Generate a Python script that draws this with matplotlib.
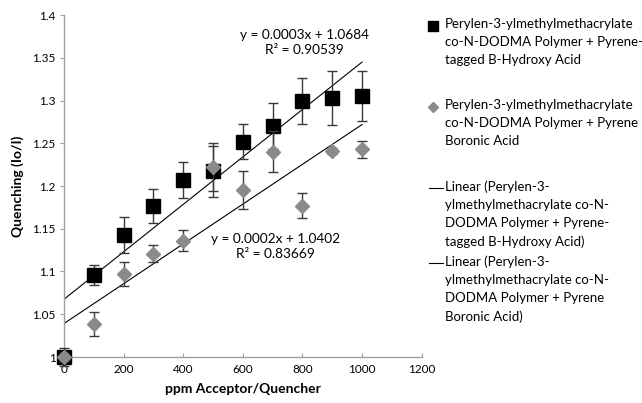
import numpy as np
import matplotlib
matplotlib.use("Agg")
import matplotlib.pyplot as plt
from matplotlib.lines import Line2D

plt.rcParams['font.family'] = ['Lato', 'DejaVu Sans']

ppm = [0, 100, 200, 300, 400, 500, 600, 700, 800, 900, 1000]

hydroxy = [1.0, 1.096, 1.143, 1.177, 1.207, 1.217, 1.252, 1.270, 1.299, 1.303, 1.305]
hydroxy_err = [0.01, 0.012, 0.021, 0.02, 0.021, 0.03, 0.021, 0.027, 0.027, 0.032, 0.029]

boronic = [1.0, 1.039, 1.097, 1.121, 1.136, 1.222, 1.195, 1.240, 1.177, 1.241, 1.243]
boronic_err = [0.005, 0.014, 0.014, 0.01, 0.012, 0.028, 0.022, 0.024, 0.015, 0.004, 0.01]

eq_hydroxy = "y = 0.0003x + 1.0684\nR² = 0.90539"
eq_boronic = "y = 0.0002x + 1.0402\nR² = 0.83669"

legend_labels = [
    "Perylen-3-ylmethylmethacrylate\nco-N-DODMA Polymer + Pyrene-\ntagged B-Hydroxy Acid",
    "Perylen-3-ylmethylmethacrylate\nco-N-DODMA Polymer + Pyrene\nBoronic Acid",
    "Linear (Perylen-3-\nylmethylmethacrylate co-N-\nDODMA Polymer + Pyrene-\ntagged B-Hydroxy Acid)",
    "Linear (Perylen-3-\nylmethylmethacrylate co-N-\nDODMA Polymer + Pyrene\nBoronic Acid)",
]

W, H = 642, 403
fig = plt.figure(figsize=(W / 100, H / 100), dpi=100)
ax = fig.add_axes([64 / W, 46 / H, 357.7 / W, 342 / H])

x = np.array(ppm)
xl = np.array([0, 1000])

# trendlines from least squares fit
for ys in (hydroxy, boronic):
    m, b = np.polyfit(x, ys, 1)
    ax.plot(xl, m * xl + b, color='black', lw=0.8, zorder=2)

# second series drawn on top, like excel
for ys, err, fmt, col, ms, z in ((hydroxy, hydroxy_err, 's', 'black', 9.5, 3),
                                 (boronic, boronic_err, 'D', '#8a8a8a', 7.5, 4)):
    cont = ax.errorbar(x, ys, yerr=err, fmt=fmt, color=col, ms=ms,
                       ecolor='#3a3a3a', elinewidth=1, capsize=3.5, capthick=1, zorder=z)
    cont[0].set_clip_on(False)
    for art in cont[1] + cont[2]:
        art.set_clip_on(False)

ax.text(807, 1.368, eq_hydroxy, ha='center', va='center', fontsize=9.8, linespacing=1.3)
ax.text(710, 1.1297, eq_boronic, ha='center', va='center', fontsize=9.8, linespacing=1.3)

ax.set_xlim(0, 1200)
ax.set_ylim(1, 1.4)
ax.set_xticks(range(0, 1201, 200))
ax.set_yticks(np.arange(1, 1.401, 0.05))
ax.set_yticklabels(['1', '1.05', '1.1', '1.15', '1.2', '1.25', '1.3', '1.35', '1.4'])
ax.tick_params(axis='y', direction='out', length=3, color='#a0a0a0', labelsize=8.5, pad=3)
ax.tick_params(axis='x', direction='in', length=3, color='#a0a0a0', labelsize=8.5, pad=5)
for s in ('top', 'right'):
    ax.spines[s].set_visible(False)
for s in ('left', 'bottom'):
    ax.spines[s].set_color('#a0a0a0')
    ax.spines[s].set_linewidth(1)

ax.set_xlabel('ppm Acceptor/Quencher', fontsize=10, fontweight='bold', labelpad=6)
ax.set_ylabel('Quenching (Io/I)', fontsize=10, fontweight='bold', labelpad=6)

# legend drawn manually, Excel style spacing
entry_tops = [26, 107, 188, 263]
handles = [
    dict(marker='s', color='black', ms=7, ls='none'),
    dict(marker='D', color='#8a8a8a', ms=5, ls='none'),
    dict(marker=None, color='black', lw=0.8),
    dict(marker=None, color='black', lw=0.8),
]
for top, lab, h in zip(entry_tops, legend_labels, handles):
    yf = 1 - top / H
    if h.get('marker'):
        fig.add_artist(Line2D([433 / W], [yf], transform=fig.transFigure, **h))
    else:
        fig.add_artist(Line2D([429 / W, 443 / W], [yf, yf], transform=fig.transFigure, **h))
    fig.text(445 / W, yf + 8 / H, lab, ha='left', va='top', fontsize=9.5, linespacing=1.62,
             transform=fig.transFigure)

fig.savefig('out.png', dpi=100)
